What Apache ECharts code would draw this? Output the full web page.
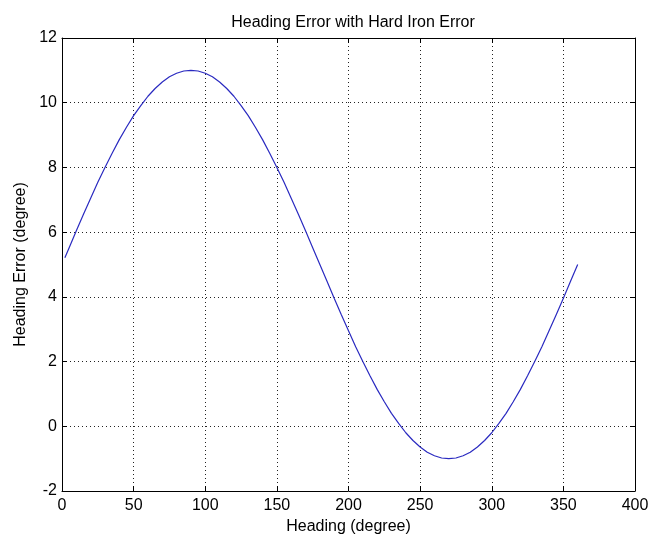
<!DOCTYPE html>
<html><head><meta charset="utf-8">
<script src="https://cdn.jsdelivr.net/npm/echarts@6/dist/echarts.min.js"></script>
<style>html,body{margin:0;padding:0;background:#fff}#c{width:653px;height:545px}</style>
</head><body><div id="c"></div>
<script>
var headings = [2,5,10,15,20,25,30,35,40,45,50,55,60,65,70,75,80,85,90,95,100,105,110,115,120,125,130,135,140,145,150,155,160,165,170,175,180,185,190,195,200,205,210,215,220,225,230,235,240,245,250,255,260,265,270,275,280,285,290,295,300,305,310,315,320,325,330,335,340,345,350,355,360];
var errors = [5.21,5.52,6.04,6.55,7.05,7.54,8.0,8.44,8.86,9.24,9.6,9.91,10.2,10.44,10.64,10.8,10.91,10.98,11.0,10.98,10.91,10.8,10.64,10.44,10.2,9.91,9.6,9.24,8.86,8.44,8.0,7.54,7.05,6.55,6.04,5.52,5.0,4.48,3.96,3.45,2.95,2.46,2.0,1.56,1.14,0.76,0.4,0.09,-0.2,-0.44,-0.64,-0.8,-0.91,-0.98,-1.0,-0.98,-0.91,-0.8,-0.64,-0.44,-0.2,0.09,0.4,0.76,1.14,1.56,2.0,2.46,2.95,3.45,3.96,4.48,5.0];
var xTicks = [0,50,100,150,200,250,300,350,400];
var yTicks = [-2,0,2,4,6,8,10,12];
var titleText = 'Heading Error with Hard Iron Error';
var xName = 'Heading (degree)';
var yName = 'Heading Error (degree)';

var font = 'Liberation Sans, Arial, Helvetica, sans-serif';
var pts = headings.map(function(h,i){return [h, errors[i]];});
var chart = echarts.init(document.getElementById('c'), null, {renderer:'canvas'});
var gridLine = {show:true, lineStyle:{color:'#222', width:1, type:[1,3]}};
var axLine = {show:true, onZero:false, lineStyle:{color:'#000', width:1}};
chart.setOption({
  animation:false,
  backgroundColor:'#fff',
  title:{text:titleText, left:348, top:10, textAlign:'center',
    textStyle:{fontFamily:font, fontSize:16, fontWeight:'normal', color:'#000'}},
  grid:{left:62, right:18, top:38, bottom:54, show:false},
  xAxis:[{type:'value', min:xTicks[0], max:xTicks[xTicks.length-1], interval:50, position:'bottom',
    name:xName, nameLocation:'middle', nameGap:27,
    nameTextStyle:{fontFamily:font, fontSize:16, color:'#000'},
    axisLine:axLine, axisTick:{show:true, inside:true, length:5, lineStyle:{color:'#000'}},
    axisLabel:{fontFamily:font, fontSize:16, color:'#000', margin:7},
    splitLine:gridLine},
   {type:'value', min:xTicks[0], max:xTicks[xTicks.length-1], interval:50, position:'top',
    axisLine:axLine, axisTick:{show:true, inside:true, length:5, lineStyle:{color:'#000'}},
    axisLabel:{show:false}, splitLine:{show:false}}],
  yAxis:[{type:'value', min:yTicks[0], max:yTicks[yTicks.length-1], interval:2, position:'left',
    name:yName, nameLocation:'middle', nameGap:33, nameRotate:90,
    nameTextStyle:{fontFamily:font, fontSize:16, color:'#000'},
    axisLine:axLine, axisTick:{show:true, inside:true, length:5, lineStyle:{color:'#000'}},
    axisLabel:{fontFamily:font, fontSize:16, color:'#000', margin:5},
    splitLine:gridLine},
   {type:'value', min:yTicks[0], max:yTicks[yTicks.length-1], interval:2, position:'right',
    axisLine:axLine, axisTick:{show:true, inside:true, length:5, lineStyle:{color:'#000'}},
    axisLabel:{show:false}, splitLine:{show:false}}],
  series:[{type:'line', data:pts, showSymbol:false, symbol:'none',
    lineStyle:{color:'#2a2ac0', width:1.2}, xAxisIndex:0, yAxisIndex:0}]
});
</script></body></html>
